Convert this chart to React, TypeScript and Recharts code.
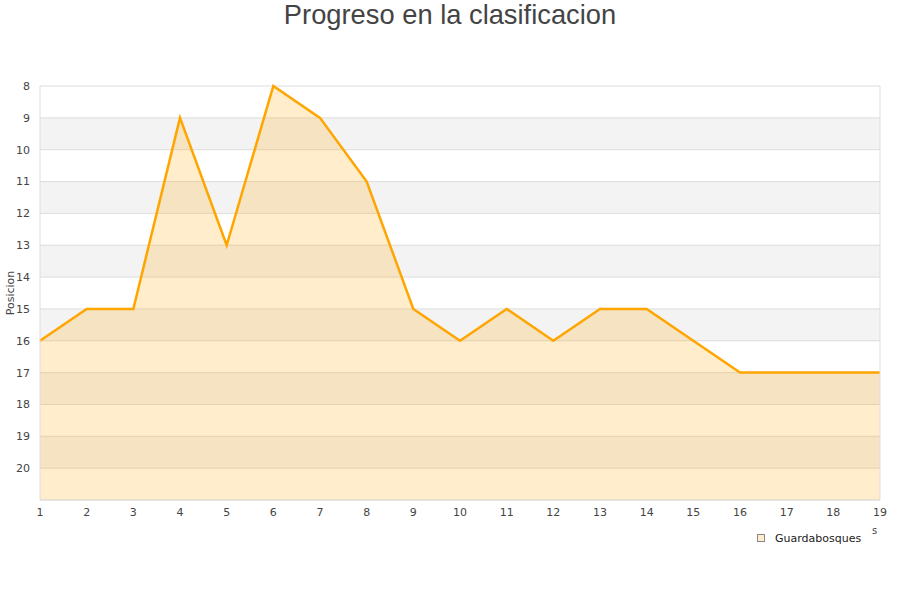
import React from "react";
import {
  AreaChart,
  Area,
  XAxis,
  YAxis,
  CartesianGrid,
} from "recharts";

const jornadas = [1, 2, 3, 4, 5, 6, 7, 8, 9, 10, 11, 12, 13, 14, 15, 16, 17, 18, 19];
const posiciones = [16, 15, 15, 9, 13, 8, 9, 11, 15, 16, 15, 16, 15, 15, 16, 17, 17, 17, 17];
const yTicks = [8, 9, 10, 11, 12, 13, 14, 15, 16, 17, 18, 19, 20];
const seriesName = "Guardabosques";

const data = jornadas.map((j, i) => ({ jornada: j, pos: posiciones[i] }));

const tickStyle = { fontSize: 11, fill: "#444", fontFamily: "DejaVu Sans" };

export default function App() {
  return (
    <div style={{ position: "absolute", left: 0, top: 0, width: 900, height: 600, background: "#fff" }}>
      <div
        style={{
          position: "absolute",
          top: 0,
          left: 0,
          width: 900,
          textAlign: "center",
          fontFamily: "Liberation Sans",
          fontSize: 27.3,
          lineHeight: "30px",
          color: "#444",
        }}
      >
        Progreso en la clasificacion
      </div>
      <AreaChart
        width={900}
        height={600}
        data={data}
        margin={{ top: 86, right: 0, bottom: 70, left: 0 }}
      >
        <CartesianGrid
          vertical={false}
          stroke="#ddd"
          horizontalFill={["#ffffff", "#f3f3f3"]}
          fillOpacity={1}
        />
        <XAxis
          dataKey="jornada"
          type="number"
          domain={[1, 19]}
          ticks={jornadas}
          interval={0}
          tick={tickStyle}
          tickLine={false}
          axisLine={{ stroke: "#ddd" }}
          height={30}
        />
        <YAxis
          type="number"
          domain={[8, 21]}
          reversed
          ticks={yTicks}
          interval={0}
          tick={tickStyle}
          tickLine={false}
          tickMargin={4}
          axisLine={{ stroke: "#ddd" }}
          width={40}
          label={() => (
            <text
              x={14}
              y={293}
              transform="rotate(-90 14 293)"
              textAnchor="middle"
              fontSize={11}
              fill="#444"
              fontFamily="DejaVu Sans"
            >
              Posicion
            </text>
          )}
        />
        <YAxis
          yAxisId="right"
          orientation="right"
          type="number"
          domain={[8, 21]}
          tick={false}
          tickLine={false}
          axisLine={{ stroke: "#ddd" }}
          width={20}
        />
        <Area
          type="linear"
          dataKey="pos"
          name={seriesName}
          stroke="#ffa500"
          strokeWidth={2.5}
          fill="#ffa500"
          fillOpacity={0.2}
          baseValue={21}
          dot={false}
          activeDot={false}
          isAnimationActive={false}
        />
      </AreaChart>
      <div
        style={{
          position: "absolute",
          left: 757,
          top: 534,
          width: 8,
          height: 8,
          background: "#feedcc",
          border: "1px solid #888",
          boxSizing: "border-box",
        }}
      />
      <div
        style={{
          position: "absolute",
          left: 775,
          top: 531,
          fontFamily: "DejaVu Sans",
          fontSize: 11,
          lineHeight: "16px",
          color: "#222",
        }}
      >
        {seriesName}
      </div>
      <div
        style={{
          position: "absolute",
          left: 872,
          top: 524,
          fontFamily: "DejaVu Sans",
          fontSize: 10,
          lineHeight: "14px",
          color: "#444",
        }}
      >
        s
      </div>
    </div>
  );
}
